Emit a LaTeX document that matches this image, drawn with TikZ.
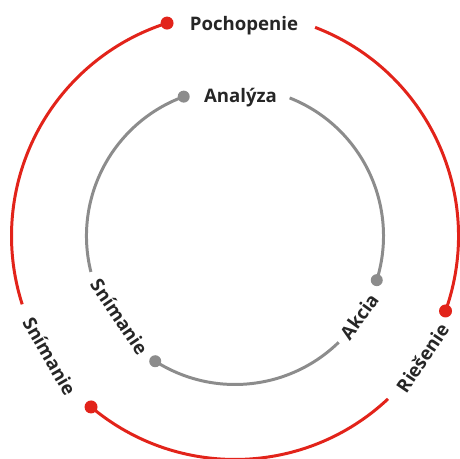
\documentclass[tikz,border=0pt]{standalone}
\usepackage{fontspec}
\setmainfont{Open Sans}
\definecolor{cyclered}{HTML}{E2231A}
\definecolor{cyclegray}{HTML}{8C8C8C}
\definecolor{labeltext}{HTML}{262626}
\begin{document}
\begin{tikzpicture}[
  outarc/.style={draw=cyclered, line width=1.7pt},
  inarc/.style={draw=cyclegray, line width=1.7pt},
  outdot/.style={circle, fill=cyclered, inner sep=0pt, minimum size=2.6mm},
  indot/.style={circle, fill=cyclegray, inner sep=0pt, minimum size=2.4mm},
  lab/.style={font=\bfseries\fontsize{10.6}{12}\selectfont, text=labeltext, inner sep=0pt}
]
\useasboundingbox (-4.7,-4.46) rectangle (4.5,4.72);

% outer cycle
\node[outdot] (o1) at (107.7:4.47) {};
\node[outdot] (o2) at (229.9:4.47) {};
\node[outdot] (o3) at (340.4:4.47) {};
\draw[outarc] (o1.center) arc[start angle=107.7, end angle=197.8, radius=4.47];
\draw[outarc] (o2.center) arc[start angle=229.9, end angle=313.2, radius=4.47];
\draw[outarc] (o3.center) arc[start angle=340.4, end angle=429, radius=4.47];

\node[lab, anchor=base] (poch) at (0.18,4.10) {Pochopenie};
\node[lab, rotate=-60] (snimout) at (213:4.42) {Snímanie};
\node[lab, rotate=56] (ries) at (327:4.47) {Riešenie};

% inner cycle
\node[indot] (i1) at (110.2:2.97) {};
\node[indot] (i2) at (237.5:2.97) {};
\node[indot] (i3) at (342.7:2.97) {};
\draw[inarc] (i1.center) arc[start angle=110.2, end angle=194, radius=2.97];
\draw[inarc] (i2.center) arc[start angle=237.5, end angle=314.3, radius=2.97];
\draw[inarc] (i3.center) arc[start angle=342.7, end angle=428.4, radius=2.97];

\node[lab, anchor=base] (anal) at (0.11,2.66) {Analýza};
\node[lab, rotate=-56] (sniminn) at (215:2.82) {Snímanie};
\node[lab, rotate=54] (akc) at (327:2.96) {Akcia};
\end{tikzpicture}
\end{document}
